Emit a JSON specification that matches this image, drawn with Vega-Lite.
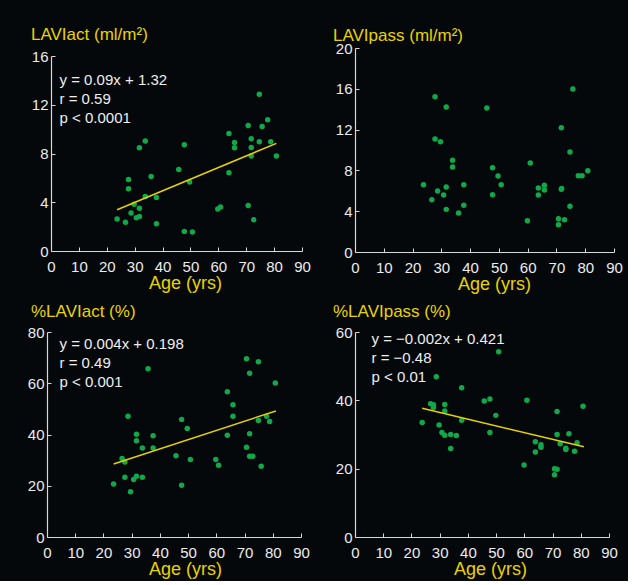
{
  "$schema": "https://vega.github.io/schema/vega-lite/v6.json",
  "background": "#05080a",
  "padding": {"left": 27, "top": 26, "right": 5, "bottom": 3},
  "columns": 2,
  "spacing": {"row": 10, "column": 22},
  "datasets": {
    "p1": [
      {"age": 23.7, "v": 2.62}, {"age": 26.7, "v": 2.35}, {"age": 27.8, "v": 5.87}, {"age": 27.8, "v": 5.11},
      {"age": 28.7, "v": 3.11}, {"age": 29.8, "v": 3.83}, {"age": 30.6, "v": 2.73}, {"age": 31.7, "v": 8.47},
      {"age": 31.7, "v": 3.5}, {"age": 31.7, "v": 2.84}, {"age": 33.8, "v": 9.02}, {"age": 33.8, "v": 4.48},
      {"age": 35.9, "v": 6.12}, {"age": 37.8, "v": 4.4}, {"age": 37.8, "v": 2.24}, {"age": 45.8, "v": 6.69},
      {"age": 47.8, "v": 8.72}, {"age": 47.8, "v": 1.61}, {"age": 49.7, "v": 5.66}, {"age": 50.7, "v": 1.56},
      {"age": 59.8, "v": 3.44}, {"age": 60.8, "v": 3.61}, {"age": 63.8, "v": 9.64}, {"age": 63.8, "v": 6.42},
      {"age": 65.8, "v": 8.91}, {"age": 65.8, "v": 8.47}, {"age": 70.7, "v": 10.3}, {"age": 70.7, "v": 3.74},
      {"age": 71.8, "v": 9.21}, {"age": 71.8, "v": 8.5}, {"age": 71.8, "v": 7.79}, {"age": 72.7, "v": 2.57},
      {"age": 74.7, "v": 12.87}, {"age": 74.7, "v": 8.96}, {"age": 75.7, "v": 10.22}, {"age": 77.7, "v": 10.77},
      {"age": 78.8, "v": 8.96}, {"age": 80.8, "v": 7.79}
    ],
    "l1": [{"age": 23.7, "v": 3.39}, {"age": 80.8, "v": 8.83}],
    "p2": [
      {"age": 23.8, "v": 6.6}, {"age": 26.7, "v": 5.13}, {"age": 27.8, "v": 15.23}, {"age": 27.8, "v": 11.08},
      {"age": 28.7, "v": 5.98}, {"age": 29.7, "v": 10.82}, {"age": 30.8, "v": 5.59}, {"age": 31.7, "v": 14.22},
      {"age": 31.7, "v": 6.37}, {"age": 31.7, "v": 4.18}, {"age": 33.9, "v": 8.99}, {"age": 33.9, "v": 8.33},
      {"age": 36.0, "v": 3.82}, {"age": 37.8, "v": 6.6}, {"age": 37.8, "v": 4.58}, {"age": 45.8, "v": 14.12},
      {"age": 47.8, "v": 8.27}, {"age": 47.8, "v": 5.62}, {"age": 49.7, "v": 7.45}, {"age": 50.8, "v": 6.6},
      {"age": 59.9, "v": 3.07}, {"age": 60.9, "v": 8.73}, {"age": 63.7, "v": 6.27}, {"age": 63.7, "v": 5.59},
      {"age": 65.8, "v": 6.54}, {"age": 65.8, "v": 6.08}, {"age": 70.7, "v": 3.27}, {"age": 70.7, "v": 2.68},
      {"age": 71.7, "v": 12.19}, {"age": 71.7, "v": 6.14}, {"age": 71.8, "v": 6.22}, {"age": 72.8, "v": 3.17},
      {"age": 74.7, "v": 9.8}, {"age": 74.7, "v": 4.48}, {"age": 75.7, "v": 15.98}, {"age": 77.6, "v": 7.48},
      {"age": 78.9, "v": 7.48}, {"age": 80.9, "v": 7.97}
    ],
    "p3": [
      {"age": 23.6, "v": 20.7}, {"age": 26.6, "v": 30.6}, {"age": 27.6, "v": 29.3}, {"age": 27.6, "v": 23.3},
      {"age": 28.7, "v": 47.1}, {"age": 29.6, "v": 17.7}, {"age": 30.7, "v": 22.4}, {"age": 31.7, "v": 23.7},
      {"age": 31.7, "v": 37.6}, {"age": 31.7, "v": 40.1}, {"age": 33.8, "v": 34.7}, {"age": 33.8, "v": 23.3},
      {"age": 35.8, "v": 65.7}, {"age": 37.6, "v": 39.5}, {"age": 37.6, "v": 34.7}, {"age": 45.7, "v": 31.7},
      {"age": 47.7, "v": 45.9}, {"age": 47.7, "v": 20.2}, {"age": 49.7, "v": 42.3}, {"age": 50.8, "v": 30.2},
      {"age": 59.8, "v": 30.2}, {"age": 60.8, "v": 28.0}, {"age": 63.9, "v": 56.7}, {"age": 63.9, "v": 39.7},
      {"age": 65.9, "v": 51.6}, {"age": 65.9, "v": 47.1}, {"age": 70.7, "v": 69.6}, {"age": 70.7, "v": 35.0},
      {"age": 71.8, "v": 63.9}, {"age": 71.8, "v": 40.3}, {"age": 71.8, "v": 31.5}, {"age": 72.9, "v": 31.5},
      {"age": 74.9, "v": 68.4}, {"age": 74.9, "v": 45.5}, {"age": 75.9, "v": 27.6}, {"age": 77.8, "v": 47.1},
      {"age": 78.9, "v": 45.1}, {"age": 80.9, "v": 60.1}
    ],
    "l3": [{"age": 23.6, "v": 28.5}, {"age": 81.1, "v": 49.2}],
    "p4": [
      {"age": 23.8, "v": 33.5}, {"age": 26.8, "v": 39.0}, {"age": 27.8, "v": 38.7}, {"age": 27.8, "v": 37.9},
      {"age": 28.8, "v": 46.9}, {"age": 29.8, "v": 32.8}, {"age": 30.8, "v": 30.6}, {"age": 31.8, "v": 29.8},
      {"age": 31.8, "v": 38.8}, {"age": 31.8, "v": 36.9}, {"age": 33.9, "v": 30.0}, {"age": 33.9, "v": 25.9},
      {"age": 35.9, "v": 29.7}, {"age": 37.8, "v": 43.7}, {"age": 37.8, "v": 34.2}, {"age": 45.8, "v": 39.8},
      {"age": 47.8, "v": 40.4}, {"age": 47.8, "v": 30.6}, {"age": 49.9, "v": 35.6}, {"age": 50.9, "v": 54.2},
      {"age": 59.9, "v": 21.1}, {"age": 60.9, "v": 40.0}, {"age": 63.9, "v": 27.9}, {"age": 63.9, "v": 24.9},
      {"age": 65.9, "v": 27.0}, {"age": 65.9, "v": 26.3}, {"age": 70.7, "v": 20.0}, {"age": 70.7, "v": 18.2},
      {"age": 71.6, "v": 19.8}, {"age": 71.6, "v": 36.7}, {"age": 71.6, "v": 30.0}, {"age": 72.7, "v": 27.3},
      {"age": 74.7, "v": 26.0}, {"age": 74.7, "v": 25.6}, {"age": 75.8, "v": 30.2}, {"age": 77.8, "v": 25.1},
      {"age": 78.7, "v": 27.6}, {"age": 80.8, "v": 38.3}
    ],
    "l4": [{"age": 23.8, "v": 37.7}, {"age": 81.1, "v": 26.4}]
  },
  "config": {
    "view": {"stroke": null},
    "axis": {
      "grid": false,
      "domainColor": "#d8d8d8",
      "domainWidth": 1.2,
      "tickColor": "#d8d8d8",
      "tickWidth": 1,
      "tickSize": -4,
      "labelColor": "#ececec",
      "labelFont": "Liberation Sans",
      "labelFontSize": 15,
      "labelOverlap": false,
      "labelFlush": false,
      "titleFont": "Liberation Sans",
      "titleFontWeight": "normal"
    },
    "axisX": {"labelPadding": 12, "titleColor": "#e8d300", "titleFontSize": 18, "titlePadding": 0},
    "axisY": {"labelPadding": 7, "titleColor": "#eeeeee", "titleFontSize": 15, "titleAngle": 0, "titleAlign": "left", "titleBaseline": "top", "titleLineHeight": 19, "titlePadding": 0},
    "title": {"font": "Liberation Sans", "fontSize": 17, "fontWeight": "normal", "color": "#e8d300", "anchor": "start", "frame": "group", "baseline": "alphabetic"}
  },
  "concat": [
    {
      "width": 255, "height": 203,
      "title": {"text": "LAVIact (ml/m²)", "dx": -16, "offset": 4},
      "encoding": {
        "x": {"field": "age", "type": "quantitative", "scale": {"domain": [0, 90], "range": [4, 255]}, "axis": {"values": [0, 10, 20, 30, 40, 50, 60, 70, 80, 90], "title": "Age (yrs)", "titleX": 138}},
        "y": {"field": "v", "type": "quantitative", "scale": {"domain": [0, 16], "range": [203, 8]}, "axis": {"offset": -4, "values": [0, 4, 8, 12, 16], "title": ["y = 0.09x + 1.32", "r = 0.59", "p < 0.0001"], "titleX": 8, "titleY": 24}}
      },
      "layer": [
        {"data": {"name": "p1"}, "mark": {"type": "circle", "size": 30, "color": "#10a84a", "opacity": 1}},
        {"data": {"name": "l1"}, "mark": {"type": "line", "color": "#e6d200", "strokeWidth": 1.5}}
      ]
    },
    {
      "width": 259, "height": 204,
      "title": {"text": "LAVIpass (ml/m²)", "dx": -22, "offset": -4},
      "data": {"name": "p2"},
      "mark": {"type": "circle", "size": 30, "color": "#10a84a", "opacity": 1},
      "encoding": {
        "x": {"field": "age", "type": "quantitative", "scale": {"domain": [0, 90]}, "axis": {"values": [0, 10, 20, 30, 40, 50, 60, 70, 80, 90], "title": "Age (yrs)", "titleX": 139}},
        "y": {"field": "v", "type": "quantitative", "scale": {"domain": [0, 20]}, "axis": {"values": [0, 4, 8, 12, 16, 20], "title": null}}
      }
    },
    {
      "width": 254, "height": 205,
      "title": {"text": "%LAVIact (%)", "dx": -16, "offset": 4},
      "encoding": {
        "x": {"field": "age", "type": "quantitative", "scale": {"domain": [0, 90]}, "axis": {"values": [0, 10, 20, 30, 40, 50, 60, 70, 80, 90], "title": "Age (yrs)", "titleX": 138}},
        "y": {"field": "v", "type": "quantitative", "scale": {"domain": [0, 80]}, "axis": {"values": [0, 20, 40, 60, 80], "title": ["y = 0.004x + 0.198", "r = 0.49", "p < 0.001"], "titleX": 12, "titleY": 4}}
      },
      "layer": [
        {"data": {"name": "p3"}, "mark": {"type": "circle", "size": 30, "color": "#10a84a", "opacity": 1}},
        {"data": {"name": "l3"}, "mark": {"type": "line", "color": "#e6d200", "strokeWidth": 1.5}}
      ]
    },
    {
      "width": 254, "height": 205,
      "title": {"text": "%LAVIpass (%)", "dx": -22, "offset": 4},
      "encoding": {
        "x": {"field": "age", "type": "quantitative", "scale": {"domain": [0, 90]}, "axis": {"values": [0, 10, 20, 30, 40, 50, 60, 70, 80, 90], "title": "Age (yrs)", "titleX": 135}},
        "y": {"field": "v", "type": "quantitative", "scale": {"domain": [0, 60]}, "axis": {"values": [0, 20, 40, 60], "title": ["y = −0.002x + 0.421", "r = −0.48", "p < 0.01"], "titleX": 16, "titleY": -1}}
      },
      "layer": [
        {"data": {"name": "p4"}, "mark": {"type": "circle", "size": 30, "color": "#10a84a", "opacity": 1}},
        {"data": {"name": "l4"}, "mark": {"type": "line", "color": "#e6d200", "strokeWidth": 1.5}}
      ]
    }
  ]
}
